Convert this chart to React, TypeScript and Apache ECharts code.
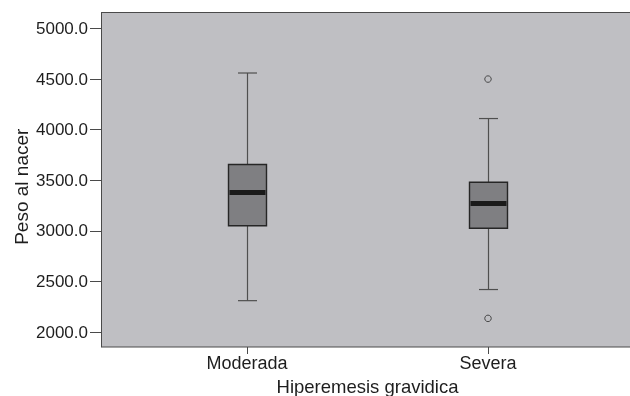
import React, { useEffect, useRef } from 'react';
import * as echarts from 'echarts';

const categories = ['Moderada', 'Severa'];
const whiskerLow = [2310, 2420];
const q1 = [3050, 3025];
const median = [3380, 3270];
const q3 = [3655, 3480];
const whiskerHigh = [4560, 4110];
const outliers: [number, number][] = [
  [1, 4500],
  [1, 2135],
];
const yTicks = [2000, 2500, 3000, 3500, 4000, 4500, 5000];
const yTitle = 'Peso al nacer';
const xTitle = 'Hiperemesis gravidica';

const FONT = '"Liberation Sans", Arial, Helvetica, sans-serif';

export default function App() {
  const ref = useRef<HTMLDivElement>(null);
  useEffect(() => {
    const chart = echarts.init(ref.current!, null, { renderer: 'svg' });
    const boxData = categories.map((_, i) => [
      i,
      whiskerLow[i],
      q1[i],
      median[i],
      q3[i],
      whiskerHigh[i],
    ]);
    chart.setOption({
      animation: false,
      textStyle: { fontFamily: FONT },
      graphic: [
        {
          type: 'rect',
          z: -10,
          shape: { x: 101.5, y: 12.5, width: 540, height: 334.5 },
          style: { fill: '#bfbfc3', stroke: '#4a4a4a', lineWidth: 1 },
        },
      ],
      grid: {
        left: 126.5,
        right: 21.5,
        top: 12.5,
        bottom: 49,
        outerBoundsMode: 'none',
        containLabel: false,
      },
      xAxis: {
        type: 'category',
        data: categories,
        boundaryGap: true,
        axisLine: { show: false },
        axisTick: {
          show: true,
          alignWithLabel: true,
          length: 7,
          lineStyle: { color: '#4a4a4a', width: 1 },
        },
        axisLabel: { fontSize: 18, color: '#1e1e1e', margin: 7, fontFamily: FONT },
        name: xTitle,
        nameLocation: 'middle',
        nameGap: 30,
        nameMoveOverlap: false,
        nameTextStyle: { fontSize: 18.5, color: '#1e1e1e', fontFamily: FONT },
        splitLine: { show: false },
      },
      yAxis: {
        type: 'value',
        min: 1852,
        max: 5158,
        offset: 25.5,
        axisLine: { show: true, lineStyle: { color: '#4a4a4a', width: 1 } },
        axisTick: {
          show: true,
          length: 11,
          customValues: yTicks,
          lineStyle: { color: '#4a4a4a', width: 1 },
        },
        axisLabel: {
          customValues: yTicks,
          fontSize: 17,
          color: '#1e1e1e',
          margin: 13,
          fontFamily: FONT,
          formatter: (v: number) => v.toFixed(1),
        },
        splitLine: { show: false },
        name: yTitle,
        nameLocation: 'middle',
        nameGap: 70,
        nameMoveOverlap: false,
        nameTextStyle: {
          fontSize: 19,
          color: '#1e1e1e',
          fontFamily: FONT,
          padding: [0, 14, 0, 0],
        },
      },
      series: [
        {
          type: 'custom',
          data: boxData,
          encode: { x: 0, y: [1, 2, 3, 4, 5] },
          renderItem: (params: any, api: any) => {
            const x = api.value(0);
            const pLo = api.coord([x, api.value(1)]);
            const pQ1 = api.coord([x, api.value(2)]);
            const pMed = api.coord([x, api.value(3)]);
            const pQ3 = api.coord([x, api.value(4)]);
            const pHi = api.coord([x, api.value(5)]);
            const cx = Math.round(pLo[0]) + 0.5;
            const half = 19;
            const cap = 9.5;
            const wStyle = { stroke: '#4f4f4f', lineWidth: 1.2 };
            return {
              type: 'group',
              children: [
                { type: 'line', shape: { x1: cx, y1: pHi[1], x2: cx, y2: pQ3[1] }, style: wStyle },
                { type: 'line', shape: { x1: cx, y1: pQ1[1], x2: cx, y2: pLo[1] }, style: wStyle },
                { type: 'line', shape: { x1: cx - cap, y1: pHi[1], x2: cx + cap, y2: pHi[1] }, style: wStyle },
                { type: 'line', shape: { x1: cx - cap, y1: pLo[1], x2: cx + cap, y2: pLo[1] }, style: wStyle },
                {
                  type: 'rect',
                  shape: { x: cx - half, y: pQ3[1], width: half * 2, height: pQ1[1] - pQ3[1] },
                  style: { fill: '#7f7f82', stroke: '#262626', lineWidth: 1.4 },
                },
                {
                  type: 'line',
                  shape: { x1: cx - half + 1, y1: pMed[1], x2: cx + half - 1, y2: pMed[1] },
                  style: { stroke: '#1a1a1a', lineWidth: 5 },
                },
              ],
            };
          },
          z: 3,
        },
        {
          type: 'scatter',
          data: outliers,
          symbol: 'circle',
          symbolSize: 6.5,
          itemStyle: { color: 'rgba(0,0,0,0)', borderColor: '#2a2a2a', borderWidth: 1 },
          z: 4,
        },
      ],
    });
    return () => chart.dispose();
  }, []);
  return (
    <div
      ref={ref}
      style={{ position: 'fixed', left: 0, top: 0, width: 630, height: 396 }}
    />
  );
}
